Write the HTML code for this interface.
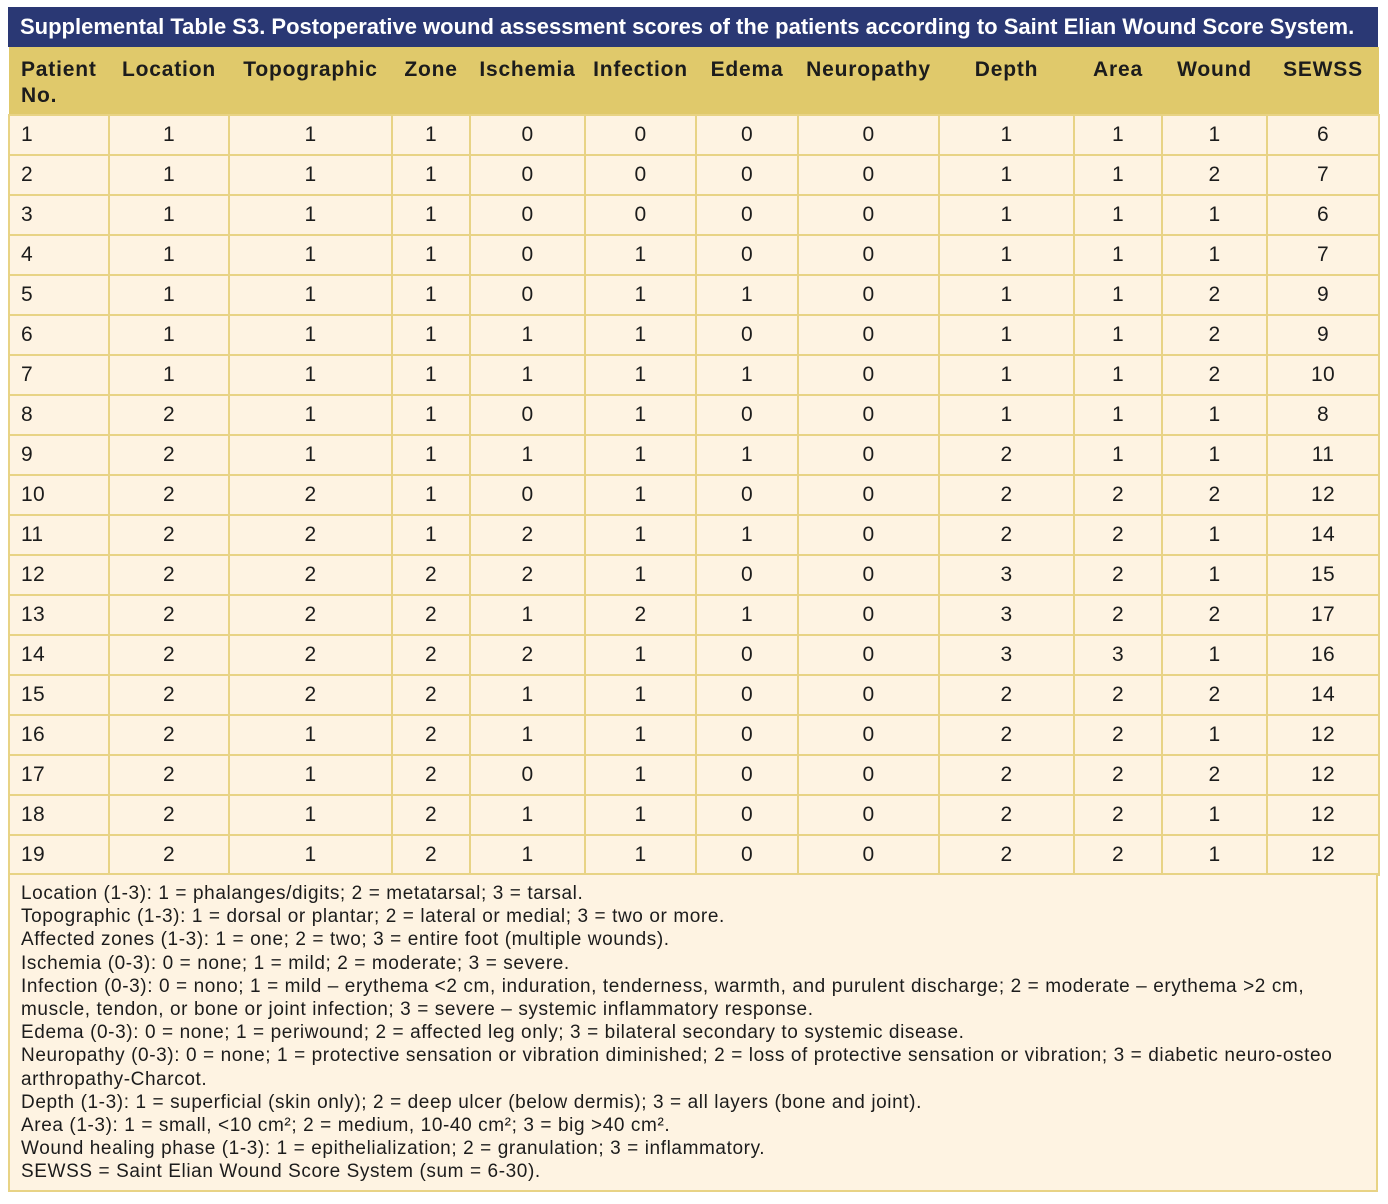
<!DOCTYPE html>
<html>
<head>
<meta charset="utf-8">
<style>
  html, body { margin:0; padding:0; background:#ffffff; }
  body { width:1388px; height:1204px; position:relative; overflow:hidden;
         font-family:"Liberation Sans", Arial, sans-serif; color:#1c1c1c; }
  .title { position:absolute; left:8px; top:7px; width:1370px; height:40px;
           background:#2a3874; color:#ffffff; font-weight:bold; font-size:22px;
           line-height:40px; white-space:nowrap; box-sizing:border-box; padding-left:12px; letter-spacing:0px; }
  table { position:absolute; left:8px; top:47px; width:1370px; border-collapse:collapse;
          table-layout:fixed; }
  th { background:#e0c96b; font-weight:bold; font-size:21px; letter-spacing:0.8px; line-height:26px; text-align:center;
       vertical-align:top; padding:10px 0 0 0; height:57px; box-sizing:content-box; border:none;
       white-space:nowrap; }
  th.first { text-align:left; padding-left:12px; white-space:normal; }
  td { background:#fef3e2; border:2px solid #e8d385; height:38px; padding:0; font-size:21px; letter-spacing:0.3px;
       text-align:center; vertical-align:middle; }
  td.first { text-align:left; padding-left:11px; }
  tr.h th { border-bottom:2px solid #e8d385; }
  .foot { position:absolute; left:8px; top:873px; width:1370px; height:319px; box-sizing:border-box;
          background:#fef3e2; border:2px solid #e8d385;
          font-size:19px; letter-spacing:0.6px; line-height:23.2px; padding:7px 0 0 11px; white-space:nowrap; }
</style>
</head>
<body>
<div class="title">Supplemental Table S3. Postoperative wound assessment scores of the patients according to Saint Elian Wound Score System.</div>
<table>
  <colgroup>
    <col style="width:100px"><col style="width:120px"><col style="width:163px"><col style="width:78px">
    <col style="width:115px"><col style="width:111px"><col style="width:102px"><col style="width:141px">
    <col style="width:135px"><col style="width:88px"><col style="width:105px"><col style="width:112px">
  </colgroup>
  <tr class="h">
    <th class="first">Patient<br>No.</th><th>Location</th><th>Topographic</th><th>Zone</th><th>Ischemia</th><th>Infection</th><th>Edema</th><th>Neuropathy</th><th>Depth</th><th>Area</th><th>Wound</th><th>SEWSS</th>
  </tr>
  <tr><td class="first">1</td><td>1</td><td>1</td><td>1</td><td>0</td><td>0</td><td>0</td><td>0</td><td>1</td><td>1</td><td>1</td><td>6</td></tr>
  <tr><td class="first">2</td><td>1</td><td>1</td><td>1</td><td>0</td><td>0</td><td>0</td><td>0</td><td>1</td><td>1</td><td>2</td><td>7</td></tr>
  <tr><td class="first">3</td><td>1</td><td>1</td><td>1</td><td>0</td><td>0</td><td>0</td><td>0</td><td>1</td><td>1</td><td>1</td><td>6</td></tr>
  <tr><td class="first">4</td><td>1</td><td>1</td><td>1</td><td>0</td><td>1</td><td>0</td><td>0</td><td>1</td><td>1</td><td>1</td><td>7</td></tr>
  <tr><td class="first">5</td><td>1</td><td>1</td><td>1</td><td>0</td><td>1</td><td>1</td><td>0</td><td>1</td><td>1</td><td>2</td><td>9</td></tr>
  <tr><td class="first">6</td><td>1</td><td>1</td><td>1</td><td>1</td><td>1</td><td>0</td><td>0</td><td>1</td><td>1</td><td>2</td><td>9</td></tr>
  <tr><td class="first">7</td><td>1</td><td>1</td><td>1</td><td>1</td><td>1</td><td>1</td><td>0</td><td>1</td><td>1</td><td>2</td><td>10</td></tr>
  <tr><td class="first">8</td><td>2</td><td>1</td><td>1</td><td>0</td><td>1</td><td>0</td><td>0</td><td>1</td><td>1</td><td>1</td><td>8</td></tr>
  <tr><td class="first">9</td><td>2</td><td>1</td><td>1</td><td>1</td><td>1</td><td>1</td><td>0</td><td>2</td><td>1</td><td>1</td><td>11</td></tr>
  <tr><td class="first">10</td><td>2</td><td>2</td><td>1</td><td>0</td><td>1</td><td>0</td><td>0</td><td>2</td><td>2</td><td>2</td><td>12</td></tr>
  <tr><td class="first">11</td><td>2</td><td>2</td><td>1</td><td>2</td><td>1</td><td>1</td><td>0</td><td>2</td><td>2</td><td>1</td><td>14</td></tr>
  <tr><td class="first">12</td><td>2</td><td>2</td><td>2</td><td>2</td><td>1</td><td>0</td><td>0</td><td>3</td><td>2</td><td>1</td><td>15</td></tr>
  <tr><td class="first">13</td><td>2</td><td>2</td><td>2</td><td>1</td><td>2</td><td>1</td><td>0</td><td>3</td><td>2</td><td>2</td><td>17</td></tr>
  <tr><td class="first">14</td><td>2</td><td>2</td><td>2</td><td>2</td><td>1</td><td>0</td><td>0</td><td>3</td><td>3</td><td>1</td><td>16</td></tr>
  <tr><td class="first">15</td><td>2</td><td>2</td><td>2</td><td>1</td><td>1</td><td>0</td><td>0</td><td>2</td><td>2</td><td>2</td><td>14</td></tr>
  <tr><td class="first">16</td><td>2</td><td>1</td><td>2</td><td>1</td><td>1</td><td>0</td><td>0</td><td>2</td><td>2</td><td>1</td><td>12</td></tr>
  <tr><td class="first">17</td><td>2</td><td>1</td><td>2</td><td>0</td><td>1</td><td>0</td><td>0</td><td>2</td><td>2</td><td>2</td><td>12</td></tr>
  <tr><td class="first">18</td><td>2</td><td>1</td><td>2</td><td>1</td><td>1</td><td>0</td><td>0</td><td>2</td><td>2</td><td>1</td><td>12</td></tr>
  <tr><td class="first">19</td><td>2</td><td>1</td><td>2</td><td>1</td><td>1</td><td>0</td><td>0</td><td>2</td><td>2</td><td>1</td><td>12</td></tr>
</table>
<div class="foot">Location (1-3): 1 = phalanges/digits; 2 = metatarsal; 3 = tarsal.<br>
Topographic (1-3): 1 = dorsal or plantar; 2 = lateral or medial; 3 = two or more.<br>
Affected zones (1-3): 1 = one; 2 = two; 3 = entire foot (multiple wounds).<br>
Ischemia (0-3): 0 = none; 1 = mild; 2 = moderate; 3 = severe.<br>
Infection (0-3): 0 = nono; 1 = mild – erythema &lt;2 cm, induration, tenderness, warmth, and purulent discharge; 2 = moderate – erythema &gt;2 cm,<br>
muscle, tendon, or bone or joint infection; 3 = severe – systemic inflammatory response.<br>
Edema (0-3): 0 = none; 1 = periwound; 2 = affected leg only; 3 = bilateral secondary to systemic disease.<br>
Neuropathy (0-3): 0 = none; 1 = protective sensation or vibration diminished; 2 = loss of protective sensation or vibration; 3 = diabetic neuro-osteo<br>
arthropathy-Charcot.<br>
Depth (1-3): 1 = superficial (skin only); 2 = deep ulcer (below dermis); 3 = all layers (bone and joint).<br>
Area (1-3): 1 = small, &lt;10 cm²; 2 = medium, 10-40 cm²; 3 = big &gt;40 cm².<br>
Wound healing phase (1-3): 1 = epithelialization; 2 = granulation; 3 = inflammatory.<br>
SEWSS = Saint Elian Wound Score System (sum = 6-30).</div>
</body>
</html>
